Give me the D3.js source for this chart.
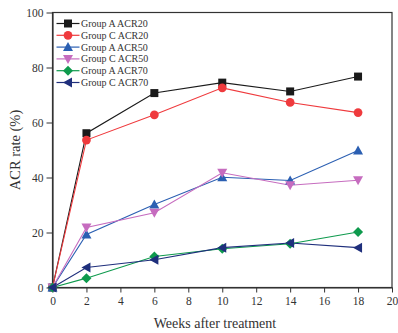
<!DOCTYPE html>
<html>
<head>
<meta charset="utf-8">
<script src="https://cdn.jsdelivr.net/npm/d3@7"></script>
<style>
  html, body { margin: 0; padding: 0; background: #fff; }
  svg { display: block; }
  text { font-family: "Liberation Serif", "Times New Roman", serif; fill: #333; }
</style>
</head>
<body>
<svg id="chart" width="398" height="333"></svg>
<script>
// Weeks after treatment at which response was assessed
const weeks = [0, 2, 6, 10, 14, 18];

// ACR response rates (%) per group
const groupA_ACR20 = [0, 56.1, 70.7, 74.5, 71.3, 76.7];
const groupC_ACR20 = [0, 53.6, 62.8, 72.6, 67.3, 63.6];
const groupA_ACR50 = [0, 19.3, 30.2, 40.1, 38.9, 49.8];
const groupC_ACR50 = [0, 21.8, 27.2, 41.7, 37.2, 39.0];
const groupA_ACR70 = [0, 3.4, 11.3, 14.1, 15.9, 20.2];
const groupC_ACR70 = [0, 7.3, 10.1, 14.5, 16.2, 14.5];

const seriesNames = ["Group A ACR20", "Group C ACR20", "Group A ACR50",
                     "Group C ACR50", "Group A ACR70", "Group C ACR70"];

const xTicks = [0, 2, 4, 6, 8, 10, 12, 14, 16, 18, 20];
const yTicks = [0, 20, 40, 60, 80, 100];

const series = [
  { name: seriesNames[0], values: groupA_ACR20, color: "#1a1a1a", symbol: "square" },
  { name: seriesNames[1], values: groupC_ACR20, color: "#ef3a3d", symbol: "circle" },
  { name: seriesNames[2], values: groupA_ACR50, color: "#2b5fb2", symbol: "triUp" },
  { name: seriesNames[3], values: groupC_ACR50, color: "#c66cbf", symbol: "triDown" },
  { name: seriesNames[4], values: groupA_ACR70, color: "#0e9a4d", symbol: "diamond" },
  { name: seriesNames[5], values: groupC_ACR70, color: "#1f2f7c", symbol: "triLeft" }
];

const margin = { left: 52.5, right: 6, top: 12.5, bottom: 46 };
const W = 398, H = 333;
const svg = d3.select("#chart");

const x = d3.scaleLinear().domain([0, 20]).range([margin.left, W - margin.right]);
const y = d3.scaleLinear().domain([0, 100]).range([H - margin.bottom + 0.5, margin.top]);

// marker path generators centred at origin
function markerPath(sym) {
  switch (sym) {
    case "square":  return "M-4,-4H4V4H-4Z";
    case "circle":  return d3.symbol().type(d3.symbolCircle).size(60)();
    case "triUp":   return "M0,-5L5,4L-5,4Z";
    case "triDown": return "M0,5L5,-4L-5,-4Z";
    case "diamond": return "M0,-5L5,0L0,5L-5,0Z";
    case "triLeft": return "M-5,0L4,-5L4,5Z";
  }
}

// plot frame
svg.append("rect")
  .attr("x", x(0)).attr("y", y(100))
  .attr("width", x(20) - x(0)).attr("height", y(0) - y(100))
  .attr("fill", "none").attr("stroke", "#333").attr("stroke-width", 1.2);

// axes
const xAxis = svg.append("g")
  .attr("transform", `translate(0,${y(0)})`)
  .call(d3.axisBottom(x).tickValues(xTicks).tickSize(5).tickPadding(4).tickSizeOuter(0));
const yAxis = svg.append("g")
  .attr("transform", `translate(${x(0)},0)`)
  .call(d3.axisLeft(y).tickValues(yTicks).tickSize(6).tickPadding(3).tickSizeOuter(0));

[xAxis, yAxis].forEach(g => {
  g.select(".domain").attr("stroke", "#333").attr("stroke-width", 1.2);
  g.selectAll(".tick line").attr("stroke", "#333").attr("stroke-width", 1);
  g.selectAll(".tick text")
    .attr("fill", "#333")
    .style("font-family", "'Liberation Serif', serif")
    .style("font-size", "11.5px");
});

// axis titles
svg.append("text")
  .attr("x", 215).attr("y", 327.5)
  .attr("text-anchor", "middle")
  .style("font-size", "14px")
  .text("Weeks after treatment");

svg.append("text")
  .attr("transform", `translate(20,${(y(0) + y(100)) / 2}) rotate(-90)`)
  .attr("text-anchor", "middle")
  .style("font-size", "14.5px")
  .text("ACR rate (%)");

// lines and markers
const line = d3.line().x((d, i) => x(weeks[i])).y(d => y(d));

series.forEach(s => {
  svg.append("path")
    .datum(s.values)
    .attr("d", line)
    .attr("fill", "none")
    .attr("stroke", s.color)
    .attr("stroke-width", 1.1);
});

series.forEach(s => {
  svg.append("g")
    .selectAll("path")
    .data(s.values)
    .join("path")
    .attr("transform", (d, i) => `translate(${x(weeks[i])},${y(d)})`)
    .attr("d", markerPath(s.symbol))
    .attr("fill", s.color);
});

// legend
const legend = svg.append("g").attr("transform", `translate(${x(0) + 4},23.5)`);
series.forEach((s, i) => {
  const row = legend.append("g").attr("transform", `translate(0,${i * 11.8})`);
  row.append("line")
    .attr("x1", 0).attr("x2", 23).attr("y1", 0).attr("y2", 0)
    .attr("stroke", s.color).attr("stroke-width", 1.2);
  row.append("path")
    .attr("transform", "translate(11.5,0)")
    .attr("d", markerPath(s.symbol))
    .attr("fill", s.color);
  row.append("text")
    .attr("x", 24.5).attr("y", 0).attr("dy", "0.35em")
    .style("font-size", "10px")
    .text(s.name);
});
</script>
</body>
</html>
